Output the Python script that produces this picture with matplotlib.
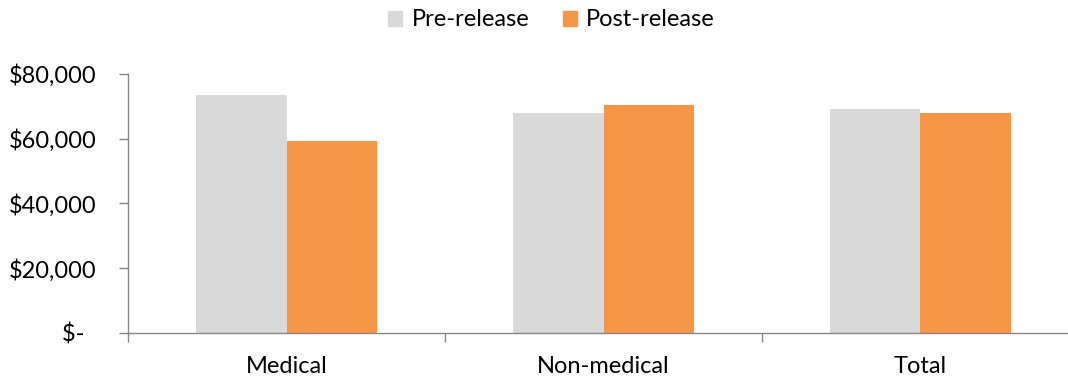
import matplotlib
matplotlib.use("Agg")
import matplotlib.pyplot as plt
import numpy as np
from matplotlib.ticker import FuncFormatter
from matplotlib.patches import Patch

categories = ["Medical", "Non-medical", "Total"]
pre_release = [73500, 68000, 69300]
post_release = [59200, 70300, 67800]
series_names = ["Pre-release", "Post-release"]
colors = ["#D9D9D9", "#F79646"]

plt.rcParams['font.family'] = ['Lato', 'DejaVu Sans']
FS = 17

fig = plt.figure(figsize=(10.68, 3.79), dpi=100)
ax = fig.add_axes([128/1068, (379-332.7)/379, 1 - 128/1068, (332.7-74)/379])

x = np.arange(len(categories))
w = 0.284
ax.bar(x - w/2, pre_release, width=w, color=colors[0], zorder=2)
ax.bar(x + w/2, post_release, width=w, color=colors[1], zorder=2)

ax.set_yticks([0, 20000, 40000, 60000, 80000])

def fmt(v, pos):
    if v == 0:
        return "$-  "
    return "${:,.0f}".format(v)
ax.yaxis.set_major_formatter(FuncFormatter(fmt))

ax.set_xticks(x)
ax.set_xticklabels(categories)
ax.set_xticks([-0.5, 0.5, 1.5], minor=True)
ax.set_ylim(0, 80000)
ax.set_xlim(-0.5, -0.5 + 940/317)
ax.tick_params(axis='x', which='major', length=0, pad=17, labelsize=FS, colors='black')
ax.tick_params(axis='x', which='minor', length=6.5, width=1, color='#868686', direction='out')
ax.tick_params(axis='y', which='major', length=6.5, width=1, color='#868686', pad=16,
               labelsize=FS, labelcolor='black')

for s in ['top', 'right']:
    ax.spines[s].set_visible(False)
for s in ['left', 'bottom']:
    ax.spines[s].set_color('#868686')
    ax.spines[s].set_linewidth(1)

handles = [Patch(color=c, label=n) for c, n in zip(colors, series_names)]
fig.legend(handles=handles, loc='center', bbox_to_anchor=(551.5/1068, 1 - 20/379), ncol=2,
           frameon=False, fontsize=FS, handlelength=0.6, handleheight=0.6,
           handletextpad=0.4, columnspacing=1.4)

fig.savefig("out.png", dpi=100)
